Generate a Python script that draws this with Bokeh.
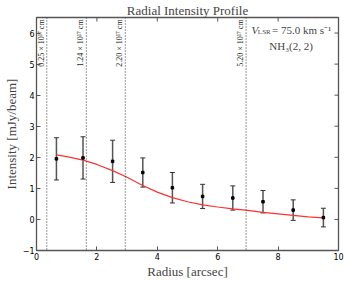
import numpy as np
from bokeh.plotting import figure
from bokeh.models import (ColumnDataSource, Whisker, Span, Label, Range1d,
                          TeeHead)
from bokeh.core.properties import value
from bokeh.embed import file_html
from bokeh.resources import INLINE

# ---- data ----
radius = [0.66, 1.54, 2.52, 3.52, 4.5, 5.5, 6.5, 7.5, 8.5, 9.5]
intensity = [1.95, 1.98, 1.87, 1.51, 1.02, 0.74, 0.69, 0.57, 0.30, 0.06]
error = [0.68, 0.68, 0.68, 0.47, 0.49, 0.39, 0.39, 0.36, 0.33, 0.30]

model_r = [0.66, 1.0, 1.54, 2.0, 2.52, 3.0, 3.5, 4.0, 4.5, 5.0, 5.5, 6.0,
           6.5, 7.0, 7.5, 8.0, 8.5, 9.0, 9.5]
model_i = [2.08, 2.02, 1.91, 1.77, 1.57, 1.36, 1.10, 0.88, 0.70, 0.57, 0.47,
           0.40, 0.34, 0.29, 0.23, 0.18, 0.13, 0.08, 0.05]

ring_r = [0.34, 1.65, 2.94, 6.94]
ring_labels = ["0.25 × 10¹⁷ cm", "1.24 × 10¹⁷ cm", "2.20 × 10¹⁷ cm",
               "5.20 × 10¹⁷ cm"]

x_ticks = [0, 2, 4, 6, 8, 10]
y_ticks = [-1, 0, 1, 2, 3, 4, 5, 6]
x_min, x_max = 0, 10
y_min, y_max = -1, 6.5

title_text = "Radial Intensity Profile"
x_label = "Radius [arcsec]"
y_label = "Intensity [mJy/beam]"

SERIF = "Liberation Serif"
FRAME = "#555555"

p = figure(width=348, height=281, x_range=Range1d(x_min, x_max),
           y_range=Range1d(y_min, y_max), output_backend="svg",
           toolbar_location=None, min_border_left=33, min_border_right=10,
           min_border_top=16, min_border_bottom=30)
p.background_fill_color = "white"
p.border_fill_color = "white"
p.grid.visible = False
p.outline_line_color = FRAME
p.outline_line_width = 1.3

p.title.text = title_text
p.title.align = "center"
p.title.text_font = SERIF
p.title.text_font_size = "13px"
p.title.text_font_style = "normal"
p.title.standoff = 0
p.title.offset = 0

for ax in (p.xaxis[0], p.yaxis[0]):
    ax.major_tick_in = 4
    ax.major_tick_out = 0
    ax.minor_tick_line_color = None
    ax.major_tick_line_color = FRAME
    ax.axis_line_color = None
    ax.major_label_text_font = "DejaVu Sans"
    ax.major_label_text_font_size = "8px"
    ax.major_label_text_color = "black"
    ax.major_label_standoff = 2
    ax.axis_label_text_font = SERIF
    ax.axis_label_text_font_size = "13px"
    ax.axis_label_text_font_style = "normal"
    ax.axis_label_standoff = 1

p.xaxis.ticker = x_ticks
p.yaxis.ticker = y_ticks
p.xaxis.axis_label = x_label
p.yaxis.axis_label = y_label
p.yaxis.major_label_overrides = {-1: "\u22121"}

# inward ticks on top and right edges (half of each dash is clipped away)
p.scatter(x=x_ticks, y=y_max, marker="dash", size=8, angle=np.pi / 2,
          line_color=FRAME, line_width=1)
p.scatter(x=x_max, y=y_ticks, marker="dash", size=8,
          line_color=FRAME, line_width=1)

# ring markers
for r in ring_r:
    p.add_layout(Span(location=r, dimension="height", line_dash="1 2",
                      line_color="#333333", line_width=1))
ring_src = ColumnDataSource(dict(x=ring_r, t=ring_labels))
p.text(x="x", y=6.44, text="t", source=ring_src, angle=np.pi / 2,
       text_align="right", text_baseline="bottom", x_offset=-1,
       text_font=value(SERIF), text_font_size="8px", text_color="#222222")

# model curve
p.line(model_r, model_i, color="#ff3030", line_width=1.2)

# error bars
src = ColumnDataSource(dict(
    x=radius, y=intensity,
    upper=[v + e for v, e in zip(intensity, error)],
    lower=[v - e for v, e in zip(intensity, error)]))
w = Whisker(source=src, base="x", upper="upper", lower="lower",
            line_color="#555555", line_width=1.5,
            upper_head=TeeHead(size=5, line_color="#333333", line_width=1),
            lower_head=TeeHead(size=5, line_color="#333333", line_width=1))
p.add_layout(w)
p.scatter("x", "y", source=src, marker="square", size=2.5, color="black")

# annotation text (data units)
p.add_layout(Label(x=7.12, y=6.10, text="V", text_font=SERIF,
                   text_font_size="11px", text_font_style="italic",
                   text_baseline="alphabetic"))
p.add_layout(Label(x=7.33, y=6.03, text="LSR", text_font=SERIF,
                   text_font_size="7px", text_baseline="alphabetic"))
p.add_layout(Label(x=7.80, y=6.10, text="= 75.0 km s\u207b\u00b9",
                   text_font=SERIF, text_font_size="11px",
                   text_baseline="alphabetic"))
p.add_layout(Label(x=8.43, y=5.57, text="NH\u2083(2, 2)",
                   text_font=SERIF, text_font_size="11px",
                   text_align="center", text_baseline="alphabetic"))

open("out.html", "w").write(file_html(p, INLINE))
